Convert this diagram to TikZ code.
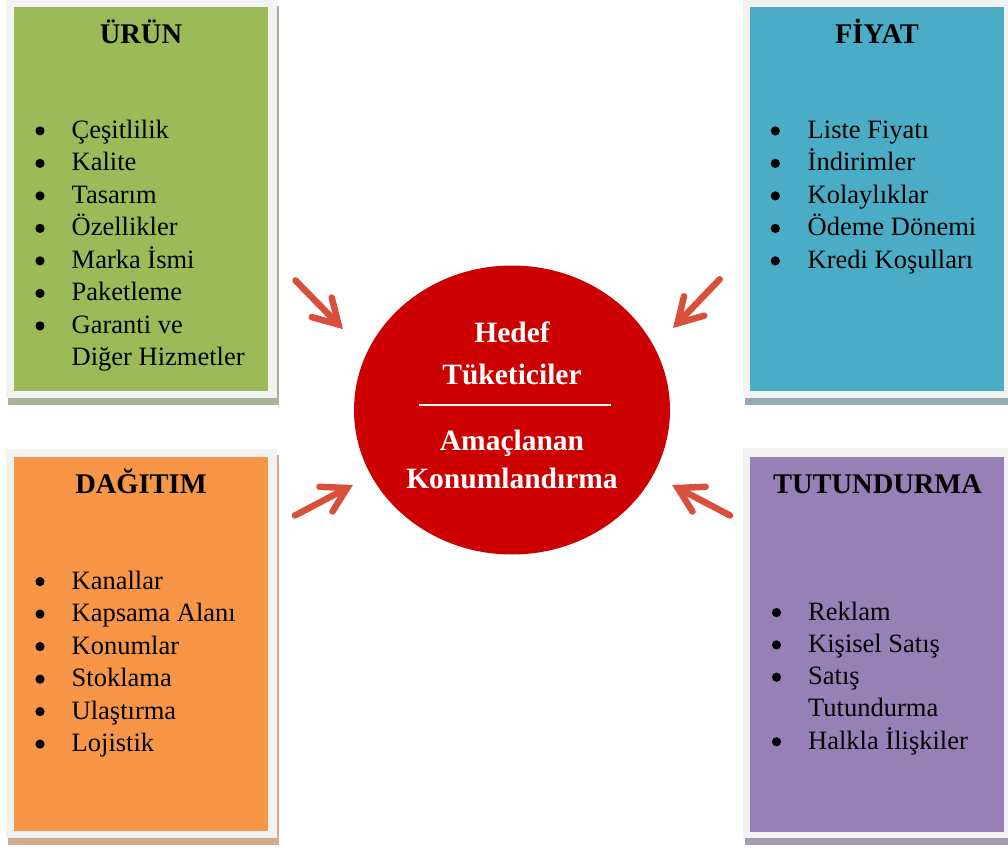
\documentclass[tikz,border=0pt]{standalone}
\usepackage{fontspec}
\setmainfont{Liberation Serif}
\usetikzlibrary{shapes.geometric,calc}
\definecolor{framegray}{HTML}{F2F2F2}
\definecolor{cgreen}{HTML}{9BBB59}
\definecolor{cblue}{HTML}{4BACC6}
\definecolor{corange}{HTML}{F79646}
\definecolor{cpurple}{HTML}{9780B6}
\definecolor{sgreen}{HTML}{A9B39A}
\definecolor{sblue}{HTML}{96AAB4}
\definecolor{sorange}{HTML}{D2AA8C}
\definecolor{spurple}{HTML}{A59BAF}
\definecolor{circred}{HTML}{CC0000}
\definecolor{arrowred}{HTML}{D9503A}
\newcommand\bul[1]{\hspace*{38pt}#1}
\newcommand\mixarrow[2]{%
  \draw[arrowline] (#1) -- (#2);
  \draw[arrowline] ($(#2)!24pt!(#1)!14pt!90:(#2)$) -- (#2) -- ($(#2)!24pt!(#1)!14pt!-90:(#2)$);}
\begin{document}
\begin{tikzpicture}[x=1pt,y=-1pt,
  listtxt/.style={anchor=base west, inner sep=0},
  titletxt/.style={anchor=base, inner sep=0, font=\bfseries\fontsize{28.5}{34}\selectfont},
  circtxt/.style={anchor=base, inner sep=0, text=white},
  bulletdot/.style={fill=black},
  arrowline/.style={draw=arrowred, line width=6.5pt, line cap=round, line join=miter}]
\useasboundingbox (0,0) rectangle (1008,850);
\fill[white] (0,0) rectangle (1008,850);
% ---- box frames with shadows
\fill[sgreen] (8,6) rectangle (279,405);
\fill[framegray] (6,0) rectangle (277,398);
\fill[cgreen] (14,7) rectangle (268,391);
\fill[sblue] (745,6) rectangle (1008,405);
\fill[framegray] (743,0) rectangle (1008,398);
\fill[cblue] (750,7) rectangle (1004,391);
\fill[sorange] (8,455) rectangle (279,845);
\fill[framegray] (6,449) rectangle (277,838);
\fill[corange] (14,457) rectangle (268,831);
\fill[spurple] (745,455) rectangle (1008,845);
\fill[framegray] (743,448) rectangle (1008,838);
\fill[cpurple] (750,457) rectangle (1004,832);
% ---- titles
\node[titletxt] (urunT) at (141,43.3) {ÜRÜN};
\node[titletxt] (fiyatT) at (877,44) {FİYAT};
\node[titletxt] (dagT) at (141,493.3) {DAĞITIM};
\node[titletxt] (tutT) at (877.5,493.3) {TUTUNDURMA};
% ---- lists
\node[listtxt] (urunL) at (33.5,138.3) {\parbox[t]{240pt}{\fontsize{26.5}{32.5}\selectfont
  \bul{Çeşitlilik}\\ \bul{Kalite}\\ \bul{Tasarım}\\ \bul{Özellikler}\\ \bul{Marka İsmi}\\
  \bul{Paketleme}\\ \bul{Garanti ve}\\ \bul{Diğer Hizmetler}}};
\node[listtxt] (fiyatL) at (769.5,138.3) {\parbox[t]{240pt}{\fontsize{26.5}{32.5}\selectfont
  \bul{Liste Fiyatı}\\ \bul{İndirimler}\\ \bul{Kolaylıklar}\\ \bul{Ödeme Dönemi}\\ \bul{Kredi Koşulları}}};
\node[listtxt] (dagL) at (33.5,589) {\parbox[t]{240pt}{\fontsize{26.5}{32.5}\selectfont
  \bul{Kanallar}\\ \bul{Kapsama Alanı}\\ \bul{Konumlar}\\ \bul{Stoklama}\\ \bul{Ulaştırma}\\ \bul{Lojistik}}};
\node[listtxt] (tutL) at (770,620) {\parbox[t]{240pt}{\fontsize{26.5}{32.3}\selectfont
  \bul{Reklam}\\ \bul{Kişisel Satış}\\ \bul{Satış}\\ \bul{Tutundurma}\\ \bul{Halkla İlişkiler}}};
% ---- bullets
\foreach \k in {0,...,6} \fill[bulletdot] (40,138.3+\k*32.5-7.4) circle (4.6);
\foreach \k in {0,...,4} \fill[bulletdot] (775.3,138.3+\k*32.5-7.4) circle (4.6);
\foreach \k in {0,...,5} \fill[bulletdot] (40,589+\k*32.5-7.4) circle (4.6);
\foreach \k in {0,1,2,4} \fill[bulletdot] (776.5,620+\k*32.3-7.4) circle (4.6);
% ---- centre
\node[ellipse, fill=circred, minimum width=316pt, minimum height=289pt, inner sep=0] (target) at (512,410) {};
\node[circtxt] (hedef) at (512,342) {\parbox[t]{300pt}{\centering\bfseries\fontsize{29.5}{42}\selectfont Hedef\\Tüketiciler}};
\coordinate (lineL) at (419,405);
\coordinate (lineR) at (611,405);
\draw[white, line width=2pt] (lineL) -- (lineR);
\node[circtxt] (amac) at (512,450) {\parbox[t]{300pt}{\centering\bfseries\fontsize{29.5}{38}\selectfont Amaçlanan\\Konumlandırma}};
% ---- arrows
\coordinate (a1t) at (295.5,280.5); \coordinate (a1h) at (338.5,324.5);
\coordinate (a2t) at (719.7,279.3); \coordinate (a2h) at (677.5,323.3);
\coordinate (a3t) at (294.9,515.5); \coordinate (a3h) at (347.2,488);
\coordinate (a4t) at (730.1,515.5); \coordinate (a4h) at (677.8,488);
\mixarrow{a1t}{a1h}
\mixarrow{a2t}{a2h}
\mixarrow{a3t}{a3h}
\mixarrow{a4t}{a4h}
\end{tikzpicture}
\end{document}
